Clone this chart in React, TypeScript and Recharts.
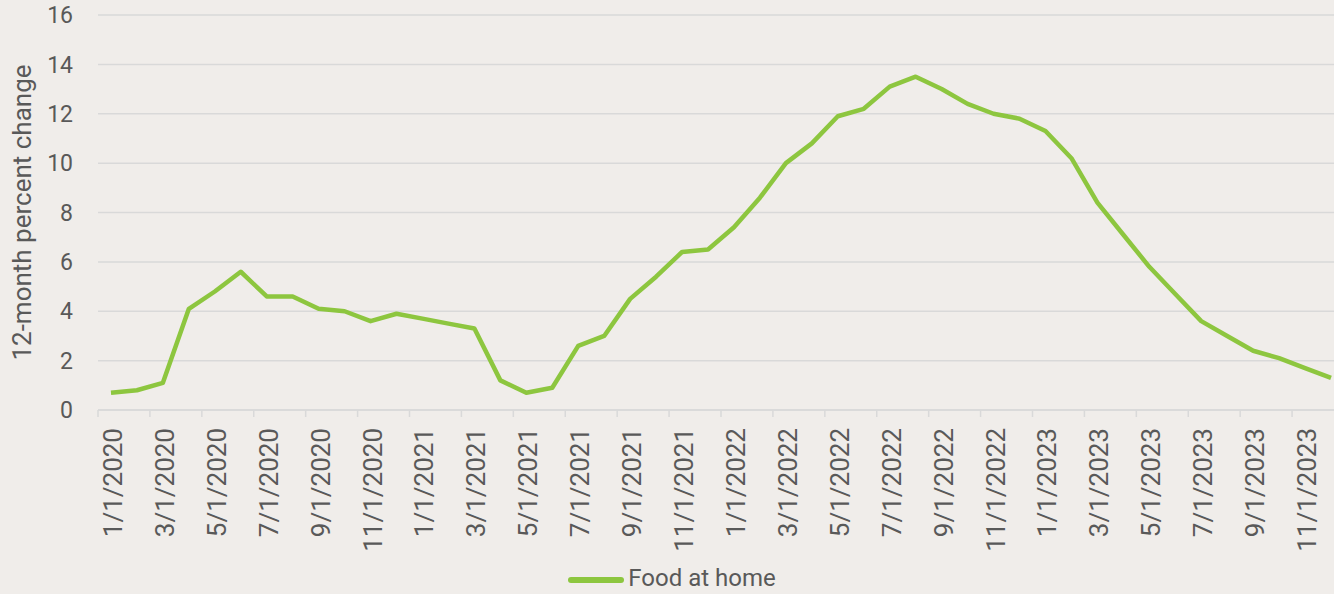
import React from "react";
import {
  LineChart,
  Line,
  XAxis,
  YAxis,
  CartesianGrid,
  Legend,
} from "recharts";

// monthly categories, Jan 2020 - Dec 2023
const MONTHS = [
  "1/1/2020", "2/1/2020", "3/1/2020", "4/1/2020", "5/1/2020", "6/1/2020",
  "7/1/2020", "8/1/2020", "9/1/2020", "10/1/2020", "11/1/2020", "12/1/2020",
  "1/1/2021", "2/1/2021", "3/1/2021", "4/1/2021", "5/1/2021", "6/1/2021",
  "7/1/2021", "8/1/2021", "9/1/2021", "10/1/2021", "11/1/2021", "12/1/2021",
  "1/1/2022", "2/1/2022", "3/1/2022", "4/1/2022", "5/1/2022", "6/1/2022",
  "7/1/2022", "8/1/2022", "9/1/2022", "10/1/2022", "11/1/2022", "12/1/2022",
  "1/1/2023", "2/1/2023", "3/1/2023", "4/1/2023", "5/1/2023", "6/1/2023",
  "7/1/2023", "8/1/2023", "9/1/2023", "10/1/2023", "11/1/2023", "12/1/2023",
];

// 12-month percent change, food at home
const FOOD_AT_HOME = [
  0.7, 0.8, 1.1, 4.1, 4.8, 5.6, 4.6, 4.6, 4.1, 4.0, 3.6, 3.9,
  3.7, 3.5, 3.3, 1.2, 0.7, 0.9, 2.6, 3.0, 4.5, 5.4, 6.4, 6.5,
  7.4, 8.6, 10.0, 10.8, 11.9, 12.2, 13.1, 13.5, 13.0, 12.4, 12.0, 11.8,
  11.3, 10.2, 8.4, 7.1, 5.8, 4.7, 3.6, 3.0, 2.4, 2.1, 1.7, 1.3,
];

const Y_TICKS = [0, 2, 4, 6, 8, 10, 12, 14, 16];

const SERIES_NAME = "Food at home";
const LINE_COLOR = "#8DC63F";
const TEXT_COLOR = "#595959";
const GRID_COLOR = "#D9D9D9";
const BG = "#F0EDEA";
const FONT = "Roboto, 'Noto Sans', sans-serif";

// each month sits in the middle of its band (i + 0.5)
const data = MONTHS.map((m, i) => ({ x: i + 0.5, month: m, value: FOOD_AT_HOME[i] }));

// even integers -> tick marks between bands, half values -> labels every 2 months
const X_TICKS: number[] = [];
for (let i = 0; i <= MONTHS.length; i += 2) {
  X_TICKS.push(i);
  if (i < MONTHS.length) X_TICKS.push(i + 0.5);
}

function XTick(props: any) {
  const { x, y, payload } = props;
  const v = payload.value as number;
  if (Number.isInteger(v)) {
    return <line x1={x} y1={y} x2={x} y2={y + 7} stroke={GRID_COLOR} strokeWidth={1.5} />;
  }
  const label = MONTHS[Math.floor(v)];
  const tx = x + 11;
  const ty = y + 18;
  return (
    <text
      x={tx}
      y={ty}
      transform={`rotate(-90, ${tx}, ${ty})`}
      textAnchor="end"
      fill={TEXT_COLOR}
      fontSize={26}
      fontFamily={FONT}
    >
      {label}
    </text>
  );
}

function YLabel(props: any) {
  const vb = props.viewBox || {};
  const cx = (vb.x || 0) + 31;
  const cy = (vb.y || 0) + (vb.height || 0) / 2;
  return (
    <text
      x={cx}
      y={cy}
      transform={`rotate(-90, ${cx}, ${cy})`}
      textAnchor="middle"
      fill={TEXT_COLOR}
      fontSize={26}
      fontFamily={FONT}
    >
      12-month percent change
    </text>
  );
}

function LegendContent() {
  return (
    <div
      style={{
        height: 28,
        lineHeight: "28px",
        display: "flex",
        alignItems: "center",
        justifyContent: "center",
        fontFamily: FONT,
        fontSize: 24,
        color: TEXT_COLOR,
      }}
    >
      <span
        style={{
          display: "inline-block",
          width: 56,
          height: 6,
          borderRadius: 3,
          background: LINE_COLOR,
          marginRight: 4,
          marginTop: 3,
        }}
      />
      <span>{SERIES_NAME}</span>
    </div>
  );
}

export default function App() {
  return (
    <div
      style={{
        width: 1334,
        height: 594,
        overflow: "hidden",
        background: BG,
      }}
    >
      <style>{"html, body { margin: 0; padding: 0; overflow: hidden; }"}</style>
      <LineChart
        width={1350}
        height={594}
        data={data}
        margin={{ top: 15, right: 6, bottom: 2, left: 0 }}
      >
        <CartesianGrid horizontal vertical={false} stroke={GRID_COLOR} strokeWidth={1.5} />
        <XAxis
          dataKey="x"
          type="number"
          domain={[0, MONTHS.length]}
          ticks={X_TICKS}
          interval={0}
          tick={<XTick />}
          tickLine={false}
          tickSize={0}
          tickMargin={0}
          axisLine={{ stroke: GRID_COLOR, strokeWidth: 1.5 }}
          height={154}
        />
        <YAxis
          domain={[0, 16]}
          ticks={Y_TICKS}
          interval={0}
          width={98}
          axisLine={false}
          tickLine={false}
          tickSize={0}
          tickMargin={25}
          tick={{ fill: TEXT_COLOR, fontSize: 23, fontFamily: FONT }}
          label={<YLabel />}
        />
        <Legend verticalAlign="bottom" content={<LegendContent />} />
        <Line
          type="linear"
          dataKey="value"
          name={SERIES_NAME}
          stroke={LINE_COLOR}
          strokeWidth={4.5}
          strokeLinejoin="round"
          dot={false}
          activeDot={false}
          isAnimationActive={false}
        />
      </LineChart>
    </div>
  );
}
